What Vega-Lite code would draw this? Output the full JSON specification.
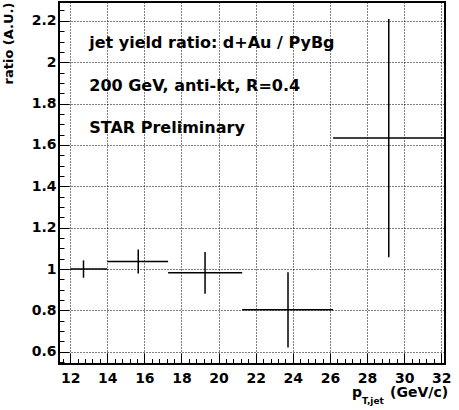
{
  "$schema": "https://vega.github.io/schema/vega-lite/v6.json",
  "width": 386,
  "height": 362,
  "autosize": "none",
  "padding": {"left": 59, "top": 2, "right": 14, "bottom": 46},
  "background": "white",
  "config": {
    "view": {"stroke": "black", "strokeWidth": 2},
    "font": "DejaVu Sans"
  },
  "data": {
    "values": [
      {"xlo": 12.0, "xhi": 14.0, "xc": 12.72, "ratio": 1.0, "ylo": 0.958, "yhi": 1.042},
      {"xlo": 14.0, "xhi": 17.28, "xc": 15.67, "ratio": 1.037, "ylo": 0.979, "yhi": 1.095},
      {"xlo": 17.28, "xhi": 21.27, "xc": 19.27, "ratio": 0.982, "ylo": 0.881, "yhi": 1.083},
      {"xlo": 21.27, "xhi": 26.17, "xc": 23.74, "ratio": 0.803, "ylo": 0.621, "yhi": 0.985},
      {"xlo": 26.17, "xhi": 32.2, "xc": 29.17, "ratio": 1.633, "ylo": 1.057, "yhi": 2.209}
    ]
  },
  "layer": [
    {
      "mark": {"type": "rule", "color": "black", "strokeWidth": 1.5},
      "encoding": {
        "x": {
          "field": "xlo", "type": "quantitative",
          "scale": {"domain": [11.4, 32.2], "nice": false, "zero": false},
          "axis": {
            "title": null,
            "domain": false,
            "tickCount": 200,
            "values": [11.6, 12, 12.4, 12.8, 13.2, 13.6, 14, 14.4, 14.8, 15.2, 15.6, 16, 16.4, 16.8, 17.2, 17.6, 18, 18.4, 18.8, 19.2, 19.6, 20, 20.4, 20.8, 21.2, 21.6, 22, 22.4, 22.8, 23.2, 23.6, 24, 24.4, 24.8, 25.2, 25.6, 26, 26.4, 26.8, 27.2, 27.6, 28, 28.4, 28.8, 29.2, 29.6, 30, 30.4, 30.8, 31.2, 31.6, 32],
            "tickSize": {"condition": {"test": "abs(datum.value/2 - round(datum.value/2)) < 0.01", "value": -11}, "value": -5.5},
            "tickColor": "black",
            "tickWidth": 1,
            "grid": true,
            "gridColor": "black",
            "gridDash": [1, 2],
            "gridWidth": 1,
            "gridOpacity": {"condition": {"test": "abs(datum.value/2 - round(datum.value/2)) < 0.01", "value": 1}, "value": 0},
            "labelExpr": "abs(datum.value/2 - round(datum.value/2)) < 0.01 ? format(datum.value, 'd') : ''",
            "labelFont": "DejaVu Sans",
            "labelFontWeight": "bold",
            "labelFontSize": 14,
            "labelColor": "black",
            "labelPadding": 18,
            "labelFlush": false,
            "labelOverlap": false
          }
        },
        "x2": {"field": "xhi"},
        "y": {
          "field": "ratio", "type": "quantitative",
          "scale": {"domain": [0.541, 2.291], "nice": false, "zero": false},
          "axis": {
            "title": "ratio (A.U.)",
            "titleFont": "DejaVu Sans",
            "titleFontWeight": "bold",
            "titleFontSize": 13,
            "titleColor": "black",
            "titleAnchor": "end",
            "titlePadding": 16,
            "domain": false,
            "tickCount": 200,
            "values": [0.55, 0.6, 0.65, 0.7, 0.75, 0.8, 0.85, 0.9, 0.95, 1, 1.05, 1.1, 1.15, 1.2, 1.25, 1.3, 1.35, 1.4, 1.45, 1.5, 1.55, 1.6, 1.65, 1.7, 1.75, 1.8, 1.85, 1.9, 1.95, 2, 2.05, 2.1, 2.15, 2.2, 2.25],
            "tickSize": {"condition": {"test": "abs(datum.value*5 - round(datum.value*5)) < 0.01", "value": -10}, "value": -5},
            "tickColor": "black",
            "tickWidth": 1,
            "grid": true,
            "gridColor": "black",
            "gridDash": [1, 2],
            "gridWidth": 1,
            "gridOpacity": {"condition": {"test": "abs(datum.value*5 - round(datum.value*5)) < 0.01", "value": 1}, "value": 0},
            "labelExpr": "abs(datum.value*5 - round(datum.value*5)) < 0.01 ? format(datum.value, '.1~f') : ''",
            "labelFont": "DejaVu Sans",
            "labelFontWeight": "bold",
            "labelFontSize": 14,
            "labelColor": "black",
            "labelPadding": 13,
            "labelFlush": false,
            "labelOverlap": false
          }
        }
      }
    },
    {
      "mark": {"type": "rule", "color": "black", "strokeWidth": 1.5},
      "encoding": {
        "x": {"field": "xc", "type": "quantitative"},
        "y": {"field": "ylo", "type": "quantitative"},
        "y2": {"field": "yhi"}
      }
    },
    {
      "data": {
        "values": [
          {"x": 13.03, "y": 2.07, "label": "jet yield ratio: d+Au / PyBg"},
          {"x": 13.03, "y": 1.862, "label": "200 GeV, anti-kt, R=0.4"},
          {"x": 13.03, "y": 1.656, "label": "STAR Preliminary"}
        ]
      },
      "mark": {"type": "text", "align": "left", "baseline": "alphabetic", "font": "DejaVu Sans", "fontWeight": "bold", "fontSize": 16, "color": "black"},
      "encoding": {
        "x": {"field": "x", "type": "quantitative"},
        "y": {"field": "y", "type": "quantitative"},
        "text": {"field": "label"}
      }
    },
    {
      "data": {
        "values": [
          {"x": 27.19, "y": 0.3815, "label": "p"},
          {"x": 29.24, "y": 0.3815, "label": "(GeV/c)"}
        ]
      },
      "mark": {"type": "text", "align": "left", "baseline": "alphabetic", "font": "DejaVu Sans", "fontWeight": "bold", "fontSize": 14, "color": "black", "clip": false},
      "encoding": {
        "x": {"field": "x", "type": "quantitative"},
        "y": {"field": "y", "type": "quantitative"},
        "text": {"field": "label"}
      }
    },
    {
      "data": {
        "values": [
          {"x": 27.73, "y": 0.35, "label": "T,jet"}
        ]
      },
      "mark": {"type": "text", "align": "left", "baseline": "alphabetic", "font": "DejaVu Sans", "fontWeight": "bold", "fontSize": 9, "color": "black", "clip": false},
      "encoding": {
        "x": {"field": "x", "type": "quantitative"},
        "y": {"field": "y", "type": "quantitative"},
        "text": {"field": "label"}
      }
    }
  ]
}
